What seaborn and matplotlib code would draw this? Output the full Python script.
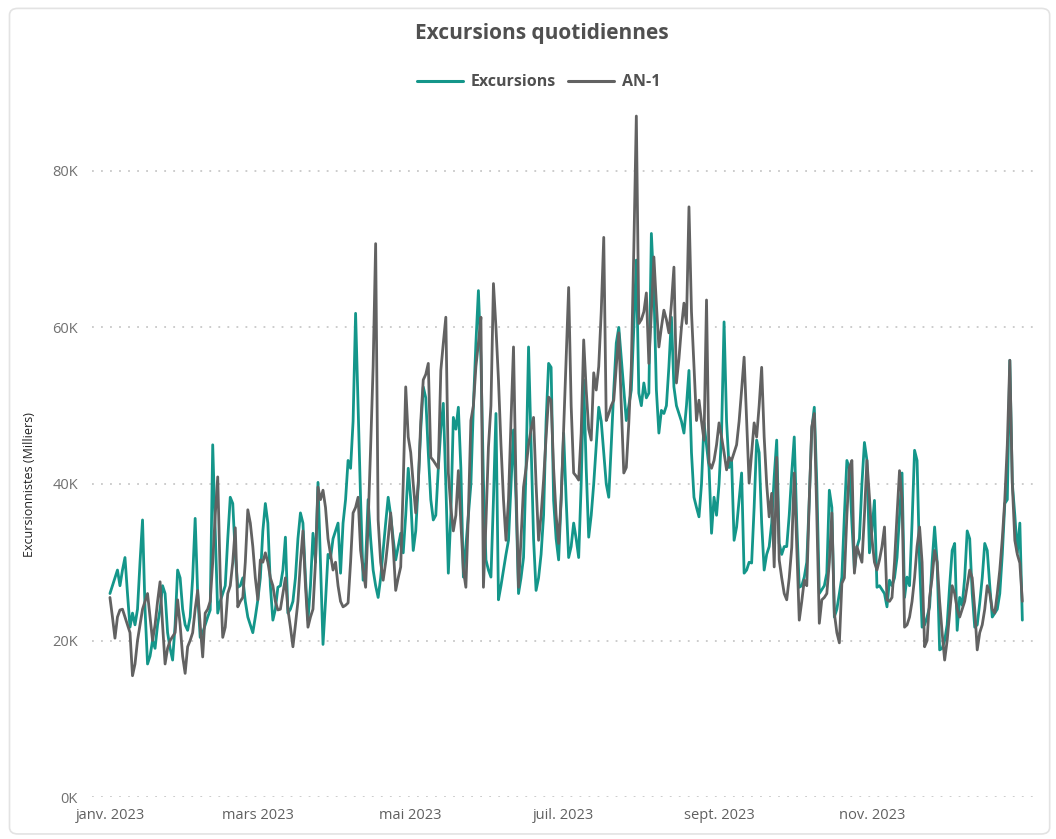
import numpy as np
import pandas as pd
import matplotlib
matplotlib.use("Agg")
import matplotlib.pyplot as plt
from matplotlib.patches import FancyBboxPatch
from matplotlib.lines import Line2D
import seaborn as sns

# daily visitors, thousands, one row = one week from 1 Jan 2023
excursions = [
    26, 27, 28, 29, 27, 29, 30.6,
    26, 21.7, 23.5, 22, 24, 30, 35.4,
    24, 17, 18, 20, 19, 22, 24,
    27, 26, 21, 19, 17.5, 22, 29,
    28, 24, 22, 21.3, 23, 28, 35.6,
    26, 20.4, 21, 22, 23, 23.9, 45,
    34, 23.5, 25, 26, 27, 33, 38.3,
    37.5, 31, 26.8, 27, 28, 25, 23,
    22, 21, 23, 25.2, 28, 34, 37.5,
    35, 27, 22.6, 24, 26.8, 27, 29,
    33.2, 23.5, 24, 25, 28, 33, 36.3,
    35, 28, 22.6, 27, 33.7, 30, 40.2,
    30, 19.5, 25, 31, 30.5, 33, 34,
    35, 28.6, 35, 38, 43, 42, 48,
    61.8, 49.8, 38, 27.7, 30, 38, 33,
    29, 27, 25.5, 28, 31.5, 35, 38.3,
    36, 33, 30.3, 32, 33.7, 31.2, 36,
    42, 38, 31.5, 34, 40, 47, 52.4,
    51, 44, 38, 35.4, 36, 42, 47,
    50.3, 40, 28.6, 36, 48.5, 47, 49.8,
    42, 28.1, 32, 36, 40, 50, 58,
    64.7, 56, 40.5, 30.3, 29, 28.1, 38,
    49, 25.2, 27, 29, 31, 32.8, 40,
    46.9, 38, 26, 28, 30.6, 42, 57.5,
    45, 33, 26.4, 28, 31, 36, 48,
    55.4, 54.9, 37.9, 33, 30.3, 38, 46.5,
    38, 30.6, 32, 35, 33, 30.6, 40,
    53.3, 42, 33.2, 36, 40, 45, 49.8,
    48, 44, 40, 38.3, 45, 52, 58,
    60, 56, 52, 48.1, 50, 52, 60,
    68.6, 51.6, 50, 52.9, 51, 51.6, 72,
    65, 52, 46.5, 49.4, 49, 50, 55,
    61.3, 52.4, 50, 49, 48, 46.5, 50,
    54.5, 44, 38.3, 37, 35.8, 40, 47.8,
    45, 42.1, 33.7, 38.3, 36, 40, 46.5,
    60.7, 48, 42.1, 43, 32.8, 34.5, 38,
    41.4, 28.6, 29, 30, 29.9, 37, 45.6,
    44, 35, 29, 31, 32, 35, 40.9,
    45.6, 32.4, 31, 32, 32, 36, 41.4,
    46, 35, 26.8, 27, 28.1, 30, 38,
    47, 49.8, 40, 26, 26.5, 27, 28.6,
    39.2, 37, 23, 24, 26, 28.1, 36,
    43, 42, 35, 29, 31.9, 33, 40,
    45.3, 43, 31.2, 34, 37.9, 26.8, 27,
    26.5, 26, 24.3, 27.7, 27, 28, 30.6,
    36, 41.4, 25.5, 28.1, 27, 35, 44.3,
    43, 30, 21.7, 22, 23, 24.3, 30,
    34.5, 30, 18.8, 19, 20, 22, 27,
    31.5, 32.4, 21.3, 25.5, 24.5, 28, 34,
    33, 26, 21.7, 22, 24.8, 28, 32.4,
    31.5, 27, 23, 23.5, 24, 26, 31,
    37.5, 38, 55.8, 40.1, 36, 31.2, 35,
    22.6,
]

an_1 = [
    25.5, 23, 20.3, 23, 23.9, 24, 23,
    22, 21, 15.5, 17, 20, 22, 24,
    25, 26, 23, 20, 22, 25, 27.5,
    22, 17, 19, 20, 20.5, 21, 25.2,
    22, 18, 15.8, 19.2, 20, 21, 24,
    26.4, 22, 17.9, 23.5, 24, 25, 30,
    36, 40.9, 28, 20.4, 21.7, 26, 27,
    30, 34.4, 24.3, 25, 25.5, 30, 36.7,
    35, 32, 28, 25.2, 30.3, 30, 31.2,
    30, 28, 27, 25, 23.9, 24, 26,
    28, 24, 21.7, 19.2, 22, 25, 30,
    34, 27, 21.7, 23, 24, 30, 39.6,
    38, 39.2, 37, 33, 31, 29, 30,
    27, 25, 24.3, 24.5, 24.8, 30, 36.3,
    37, 38.3, 31.5, 29, 26.8, 35, 44.7,
    55, 70.7, 35.4, 30, 27.7, 30, 33,
    36.3, 32, 26.4, 28, 29.4, 40, 52.4,
    46, 44, 40, 36.3, 40, 48, 53.3,
    54, 55.4, 43.4, 43, 42.5, 42, 54.5,
    58, 61.3, 41.4, 37, 34, 36, 41.7,
    35, 29, 26.8, 36.3, 48.1, 50, 55,
    58, 61.3, 26.8, 35, 44.7, 50, 65.6,
    60, 53.3, 45, 38, 32.8, 38, 48,
    57.5, 40, 26.8, 33, 39.6, 42, 45,
    47, 48.5, 40, 32.8, 36, 40.5, 46,
    51.1, 50.7, 42, 36, 32.4, 38, 46.9,
    56, 65.1, 50, 41.4, 41, 40.5, 46.5,
    58.4, 52, 47, 45.6, 54.2, 52, 55,
    62, 71.5, 48.1, 49, 50, 50.7, 55,
    59.3, 50, 41.4, 42.1, 47.8, 55, 70,
    87, 60.5, 61, 62, 64.4, 55.4, 62,
    69, 63, 57.5, 60, 62.2, 61, 59.3,
    63, 67.7, 52.9, 56, 60, 63.1, 60.5,
    75.4, 62, 54.9, 48.1, 50.7, 48, 45.6,
    63.5, 42.7, 42, 43, 45, 47.8, 46,
    44, 41.8, 43.4, 43, 44, 45, 48,
    52, 56.2, 48, 40.1, 44, 47.8, 46,
    50, 54.9, 46, 40, 35.8, 38.8, 29.4,
    43.4, 30.3, 28, 26, 25.2, 28, 31.9,
    41.4, 32, 22.6, 25, 27.7, 27, 38,
    47.3, 49, 36, 22.2, 25.2, 25.5, 26,
    30, 36.3, 23.5, 21, 19.7, 27.3, 28,
    36, 42.1, 43, 28.6, 32, 31, 30,
    36, 43, 38.3, 33, 30, 29, 30.3,
    32, 34.5, 25.2, 25, 25.5, 30, 36,
    41.7, 38, 21.7, 22, 23, 25, 28,
    32, 34.5, 30, 19.2, 20, 25.5, 28,
    31.5, 30, 25, 21, 17.5, 20, 23.5,
    27, 26, 24, 23, 24, 25, 27,
    29, 28, 24, 18.8, 21, 22, 24,
    27, 26, 24, 23.5, 26, 29, 33,
    38, 45, 55.8, 40, 32.8, 31, 29.9,
    25,
]

tick_months = ["2023-01-01", "2023-03-01", "2023-05-01", "2023-07-01", "2023-09-01", "2023-11-01"]
tick_labels = ["janv. 2023", "mars 2023", "mai 2023", "juil. 2023", "sept. 2023", "nov. 2023"]
y_ticks = [0, 20, 40, 60, 80]
y_labels = ["0K", "20K", "40K", "60K", "80K"]

teal = "#14968A"
grey = "#626262"

dates = pd.date_range("2023-01-01", periods=len(excursions), freq="D")
df = pd.DataFrame({"date": dates, "Excursions": excursions, "AN-1": an_1})
long = df.melt(id_vars="date", var_name="serie", value_name="val")

sns.set_style("white")
plt.rcParams["font.family"] = ["Open Sans", "DejaVu Sans"]

fig = plt.figure(figsize=(10.56, 8.39), dpi=100)
ax = fig.add_axes([0.087, 0.050, 0.893, 0.821])

sns.lineplot(data=long, x="date", y="val", hue="serie", hue_order=["AN-1", "Excursions"],
             palette={"Excursions": teal, "AN-1": grey}, linewidth=2.0, ax=ax, legend=False)
ax.lines[1].set_zorder(2)
ax.lines[0].set_zorder(3)

ax.set_xlim(pd.Timestamp("2022-12-24 19:00"), pd.Timestamp("2024-01-05"))
ax.set_ylim(0, 88)
ax.set_yticks(y_ticks)
ax.set_yticklabels(y_labels, color="#707070", fontsize=10.5)
ax.set_xticks([pd.Timestamp(t) for t in tick_months])
ax.set_xticklabels(tick_labels, color="#606060", fontsize=10.5)
ax.tick_params(axis="y", length=0, pad=10)
ax.tick_params(axis="x", length=0, pad=8)
ax.set_xlabel("")
ax.set_ylabel("")
ax.grid(axis="y", color="#c8c8c8", linestyle=(0, (1, 4)), linewidth=1.3)
ax.grid(axis="x", visible=False)
for s in ax.spines.values():
    s.set_visible(False)

fig.text(0.513, 0.960, "Excursions quotidiennes", ha="center", va="center",
         fontsize=15, fontweight="bold", color="#505050")
fig.text(0.028, 0.423, "Excursionnistes (Milliers)", rotation=90, ha="center", va="center",
         fontsize=9, color="#222222")

handles = [Line2D([], [], color=teal, lw=2.2), Line2D([], [], color=grey, lw=2.2)]
fig.legend(handles, ["Excursions", "AN-1"], loc="center", bbox_to_anchor=(0.510, 0.902), ncol=2,
           frameon=False, handlelength=2.9, columnspacing=0.7, handletextpad=0.5,
           prop={"weight": "bold", "size": 11.5}, labelcolor="#505050")

card = FancyBboxPatch((0.009, 0.006), 0.985, 0.984, boxstyle="round,pad=0,rounding_size=0.008",
                      transform=fig.transFigure, fill=False, edgecolor="#e3e3e3", linewidth=1.2)
fig.patches.append(card)

fig.savefig("out.png", dpi=100, facecolor="white")
